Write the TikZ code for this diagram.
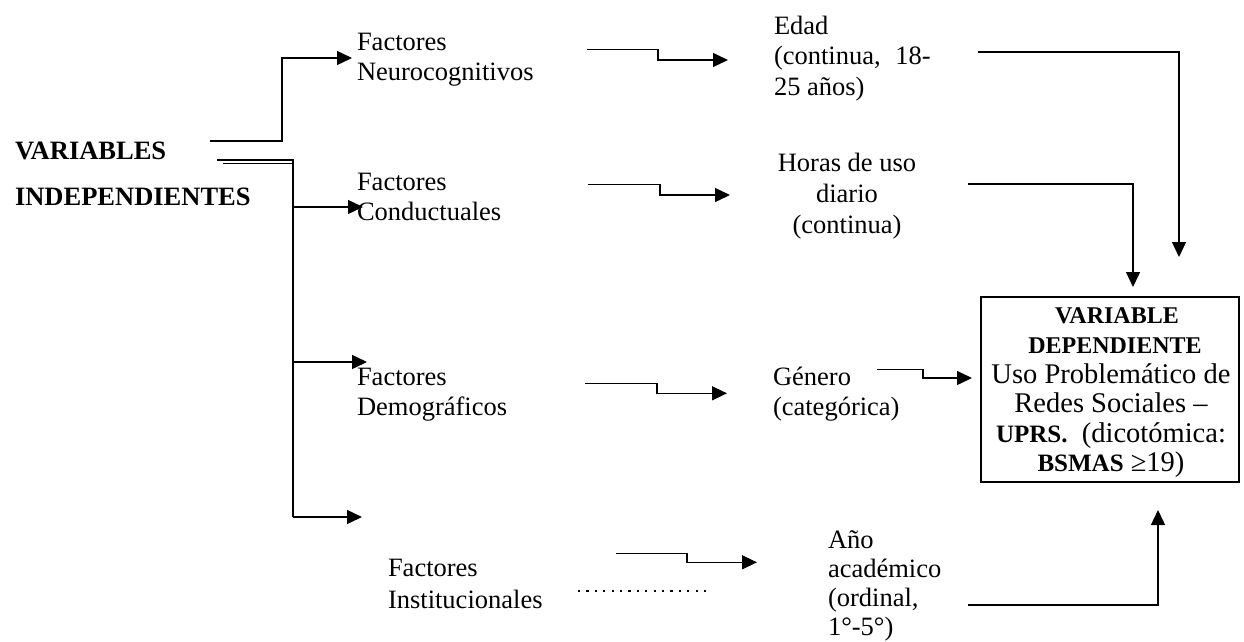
\documentclass[tikz,border=0pt]{standalone}
\usepackage{fontspec}
\setmainfont{Liberation Serif}
\usetikzlibrary{arrows.meta}
\newcommand{\fs}{\rule{0pt}{20pt}}
\tikzset{
  lbl/.style={anchor=north west, inner sep=0pt, outer sep=0pt, align=left,
              font=\fontsize{26.5}{30.7}\selectfont},
  conn/.style={line width=1.4pt, line join=miter},
  arr/.style={conn, -{Triangle[length=15pt,width=14pt]}},
  dots/.style={line width=2.2pt, dash pattern=on 2.2pt off 6.2pt}
}
\begin{document}
\begin{tikzpicture}[x=1pt,y=-1pt]
\useasboundingbox (0,0) rectangle (1244,642);

% left title
\node[lbl, font=\fontsize{26.5}{46.7}\selectfont\bfseries] (vi) at (15,139) {\fs VARIABLES\\INDEPENDIENTES};

% factor labels
\node[lbl] (neuro) at (357,30) {\fs Factores\\Neurocognitivos};
\node[lbl] (cond) at (357,170) {\fs Factores\\Conductuales};
\node[lbl] (demo) at (357,365) {\fs Factores\\Demográficos};
\node[lbl, font=\fontsize{26.5}{31.3}\selectfont] (inst) at (388,556.7) {\fs Factores\\Institucionales};

% variable labels
\node[lbl, font=\fontsize{26.5}{30.5}\selectfont] (edad) at (774,14) {\fs Edad\\(continua,\hspace{0.3em} 18-\\25 años)};
\node[lbl, anchor=north, align=center, font=\fontsize{26.5}{31}\selectfont] (horas) at (847,151.7) {\fs Horas de uso\\diario\\(continua)};
\node[lbl, font=\fontsize{26.5}{30}\selectfont] (genero) at (773,365) {\fs Género\\(categórica)};
\node[lbl, font=\fontsize{26.5}{29}\selectfont] (ano) at (828,528) {\fs Año\\académico\\(ordinal,\\1°-5°)};

% dependent variable box
\node[draw, line width=1.6pt, minimum width=258pt, minimum height=185pt, inner sep=0pt] (dep) at (1110,389.5) {};
\node[inner sep=0pt, align=center, font=\fontsize{28.5}{29.6}\selectfont] (deptxt) at (1111,393)
 {{\fontsize{24}{29.6}\selectfont\bfseries\hspace*{12pt}VARIABLE}\\
  {\fontsize{24}{29.6}\selectfont\bfseries\hspace*{8pt}DEPENDIENTE}\\
  Uso Problemático de\\
  Redes Sociales –\\
  {\fontsize{25}{29.6}\selectfont\bfseries UPRS.}\ \ (dicotómica:\\
  {\fontsize{25}{29.6}\selectfont\bfseries BSMAS} ≥19)};

% coordinates for connectors
\coordinate (s1) at (210,141);
\coordinate (t1) at (352,58);
\coordinate (d1) at (217,160);
\coordinate (d2) at (223,163.3);
\coordinate (tr) at (293,160);
\coordinate (tb) at (293,517);
\coordinate (t2) at (363,207);
\coordinate (t3) at (367,362);
\coordinate (t4) at (362,517);

\draw[arr] (s1) -- ++(72,0) |- (t1);
\draw[conn] (d1) -- (tr) -- (tb);
\draw[conn] (d2) -- (tr |- d2);
\draw[arr] (tr |- t2) -- (t2);
\draw[arr] (tr |- t3) -- (t3);
\draw[arr] (tb) -- (t4);

% stepped arrows
\coordinate (a1) at (587,49.3);  \coordinate (b1) at (728,60);
\coordinate (a2) at (588,184.3); \coordinate (b2) at (730,195);
\coordinate (a3) at (585,383.3); \coordinate (b3) at (727,393.3);
\coordinate (a4) at (616,553.3); \coordinate (b4) at (757,562.3);
\coordinate (a5) at (877,369.3); \coordinate (b5) at (972,378);
\draw[arr] (a1) -- ++(71,0) |- (b1);
\draw[arr] (a2) -- ++(72,0) |- (b2);
\draw[arr] (a3) -- ++(72,0) |- (b3);
\draw[arr] (a4) -- ++(71,0) |- (b4);
\draw[arr] (a5) -- ++(46,0) |- (b5);

% dotted line
\coordinate (p1) at (578,590.7);
\coordinate (p2) at (706,590.7);
\draw[dots] (p1) -- (p2);

% connectors into the box
\coordinate (e1) at (978,52);   \coordinate (f1) at (1179,257);
\coordinate (e2) at (968,184);  \coordinate (f2) at (1133,287);
\coordinate (e3) at (968,605);  \coordinate (f3) at (1158,510);
\draw[arr] (e1) -| (f1);
\draw[arr] (e2) -| (f2);
\draw[arr] (e3) -| (f3);
\end{tikzpicture}
\end{document}
